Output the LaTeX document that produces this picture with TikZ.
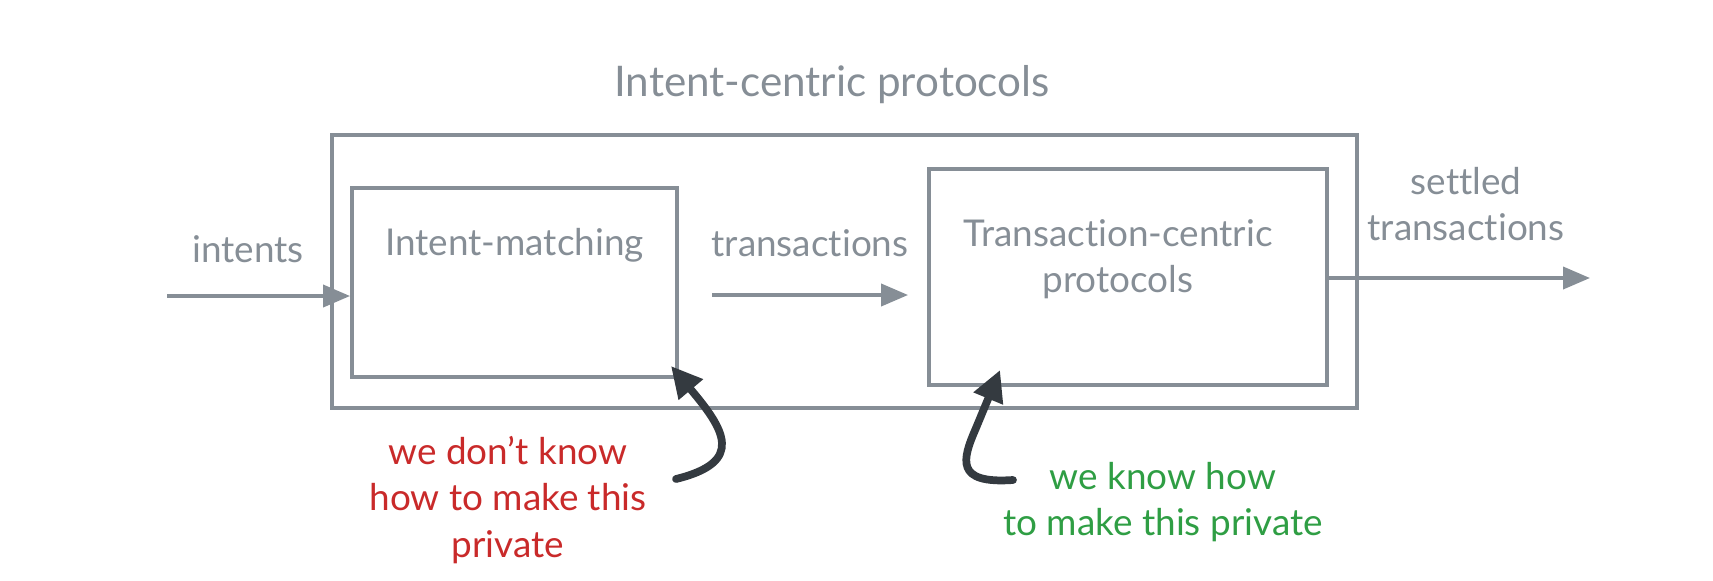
\documentclass[tikz,border=0pt]{standalone}
\usepackage{fontspec}
\setmainfont{Lato}[Ligatures=NoCommon]
\usetikzlibrary{positioning,calc,arrows.meta}

\definecolor{sketchgray}{RGB}{134,142,150}
\definecolor{sketchred}{RGB}{201,42,42}
\definecolor{sketchgreen}{RGB}{47,158,68}
\definecolor{sketchdark}{RGB}{52,58,64}

\begin{document}
\begin{tikzpicture}[
    box/.style={draw=sketchgray, line width=1.1pt, inner sep=0pt},
    label/.style={font=\fontsize{10.5}{13}\selectfont, text=sketchgray, align=center},
    note/.style={font=\fontsize{10.5}{13.2}\selectfont, align=center},
    flow/.style={draw=sketchgray, line width=1.1pt, -{Triangle[length=0.27cm, width=0.22cm]}},
    pointer/.style={draw=sketchdark, line width=2.2pt, line cap=round, -{Triangle[length=0.31cm, width=0.3cm]}}
]
\useasboundingbox (0,0) rectangle (17.13,-5.80);

% Outer box
\node[box, minimum width=10.25cm, minimum height=2.73cm] (icp) at (8.445,-2.715) {};
\node[label, font=\fontsize{12}{14}\selectfont] (title) at (8.32,-0.85) {Intent-centric protocols};

% Intent matching
\node[box, minimum width=3.25cm, minimum height=1.89cm] (im) at (5.145,-2.825) {};
\node[label, below=0.3cm of im.north] (imtext) {Intent-matching};

% Transaction-centric protocols
\node[box, minimum width=3.98cm, minimum height=2.16cm] (tc) at (11.28,-2.77) {};
\node[label, below=0.4cm of tc.north, xshift=-0.1cm] (tctext) {Transaction-centric\\protocols};

% Flow arrows
\coordinate (in) at (1.67,-2.96);
\node[label] (intents) at (2.48,-2.49) {intents};
\draw[flow] (in) -- (in -| im.west);

\coordinate (mid) at (7.12,-2.95);
\node[label] (tx) at (8.10,-2.43) {transactions};
\draw[flow, shorten >=0.19cm] (mid) -- (mid -| tc.west);

\coordinate (out) at (15.90,-2.78);
\node[label] (settled) at (14.66,-2.04) {settled\\transactions};
\draw[flow] (out -| tc.east) -- (out);

% Notes
\node[note, text=sketchred] (dontknow) at (5.08,-5.00) {we don't know\\how to make this\\private};
\node[note, text=sketchgreen] (know) at (11.63,-5.02) {we know how\\to make this private};

\coordinate (redtail) at (6.76,-4.79);
\coordinate (greentail) at (10.13,-4.80);
\draw[pointer] (redtail) .. controls (7.45,-4.62) and (7.25,-4.30) .. ($(im.south east)+(-0.08,0.13)$);
\draw[pointer] (greentail) .. controls (9.55,-4.84) and (9.62,-4.60) .. (9.76,-4.28) -- ($(tc.south west)+(0.73,0.17)$);

\end{tikzpicture}
\end{document}
